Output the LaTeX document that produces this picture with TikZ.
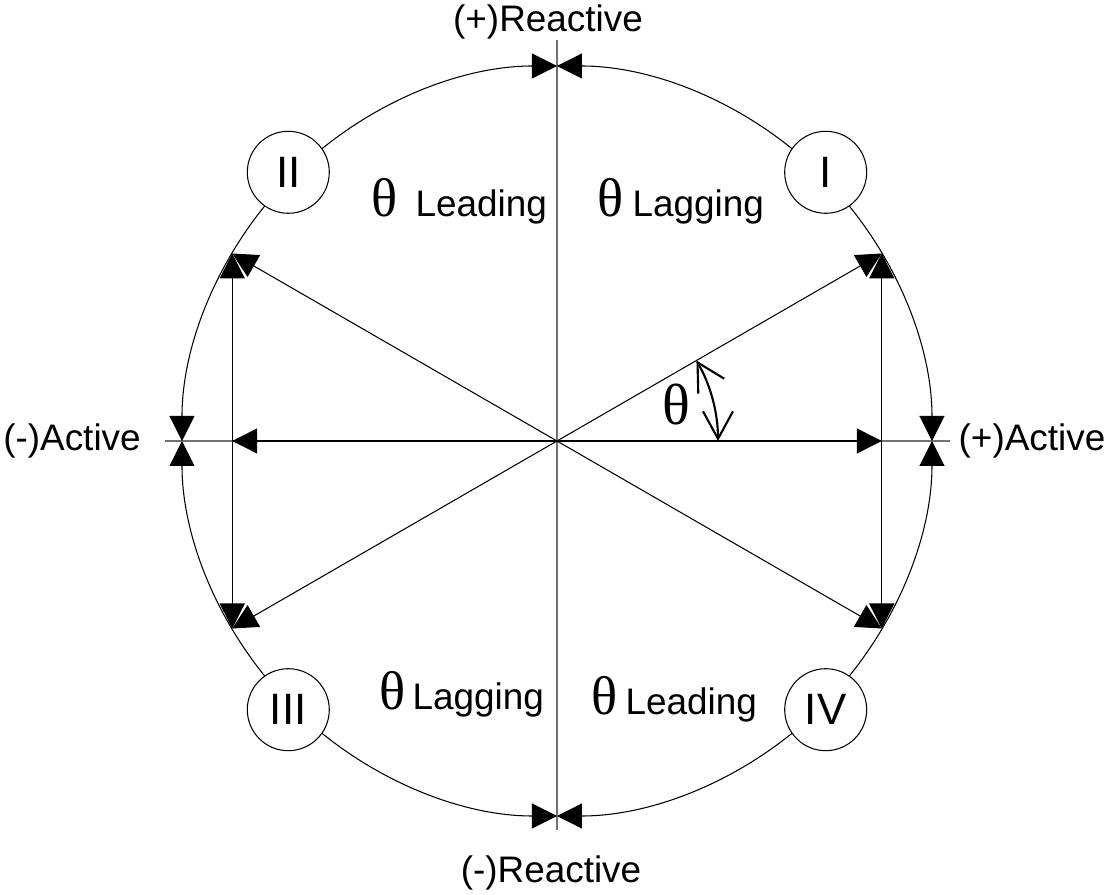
\documentclass[tikz,border=0pt]{standalone}
\usepackage{fontspec}
\setmainfont{Liberation Sans}
\newfontfamily\greekfont{Liberation Serif}
\usetikzlibrary{arrows.meta}

\begin{document}
\begin{tikzpicture}[line width=0.6pt,
        onehead/.style={-{Triangle[length=5mm,width=5mm]}},
        bothheads/.style={{Triangle[length=5mm,width=5mm]}-{Triangle[length=5mm,width=5mm]}},
        axisline/.style={black!55,line width=1pt},
        txt/.style={font=\fontsize{21}{25}\selectfont,inner sep=0pt},
        greek/.style={font=\greekfont\fontsize{31}{35}\selectfont,inner sep=0pt},
        quadrant/.style={draw,circle,fill=white,minimum size=1.64cm,inner sep=0pt,
            font=\fontsize{25}{29}\selectfont}]
    \useasboundingbox (-11.14,-9.08) rectangle (11.02,8.82);
    \coordinate (O) at (0,0);
    \foreach \a/\n in {30/P1,150/P2,210/P3,330/P4}
        \coordinate (\n) at (\a:7.5);
    \coordinate (R) at (P1 |- O);
    \coordinate (L) at (P2 |- O);
    \coordinate (ytop) at (0,8.02);
    \coordinate (ybot) at (0,-7.78);
    \coordinate (xleft) at (-7.84,0);
    \coordinate (xright) at (7.86,0);
    \coordinate (t0) at (0:3.22);
    \coordinate (t1) at (30:3.22);
    % axes
    \draw[axisline] (ytop) -- (ybot);
    \draw[axisline] (xleft) -- (xright);
    % circle, eight arcs meeting on the axes
    \foreach \s/\e in {45/90,135/90,45/0,-45/0,135/180,225/180,225/270,315/270}
        \draw[onehead] (\s:7.5) arc[start angle=\s,end angle=\e,radius=7.5];
    % vectors
    \foreach \p in {P1,P2,P3,P4}
        \draw[onehead] (O) -- (\p);
    \draw[onehead,line width=0.8pt] (O) -- (R);
    \draw[onehead,line width=0.8pt] (O) -- (L);
    \draw[bothheads,line width=0.8pt] (P4) -- (P1);
    \draw[bothheads,line width=0.8pt] (P3) -- (P2);
    % angle
    \draw[line width=1.2pt,{Straight Barb[length=5.5mm,width=6mm]}-{Straight Barb[length=5.5mm,width=6mm]}]
        (t0) arc[start angle=0,end angle=30,radius=3.22];
    \node[greek,font=\greekfont\fontsize{33}{37}\selectfont] (th) at (2.38,0.72) {θ};
    % quadrants
    \node[quadrant] (q1) at (45:7.6) {I};
    \node[quadrant] (q2) at (135:7.6) {II};
    \node[quadrant] (q3) at (225:7.6) {III};
    \node[quadrant] (q4) at (315:7.6) {IV};
    % axis labels
    \node[txt] (preac) at (-0.18,8.38) {(+)Reactive};
    \node[txt] (nreac) at (-0.12,-8.64) {(-)Reactive};
    \node[txt] (pact) at (9.5,0) {(+)Active};
    \node[txt] (nact) at (-9.7,0) {(-)Active};
    % quadrant texts
    \node[greek,anchor=base west] (th2) at (-3.72,4.48) {θ};
    \node[txt,anchor=base west] (lead2) at (-2.84,4.48) {Leading};
    \node[greek,anchor=base west] (th1) at (0.8,4.48) {θ};
    \node[txt,anchor=base west] (lag1) at (1.5,4.48) {Lagging};
    \node[greek,anchor=base west] (th3) at (-3.56,-5.38) {θ};
    \node[txt,anchor=base west] (lag3) at (-2.9,-5.38) {Lagging};
    \node[greek,anchor=base west] (th4) at (0.68,-5.48) {θ};
    \node[txt,anchor=base west] (lead4) at (1.36,-5.48) {Leading};
\end{tikzpicture}
\end{document}
